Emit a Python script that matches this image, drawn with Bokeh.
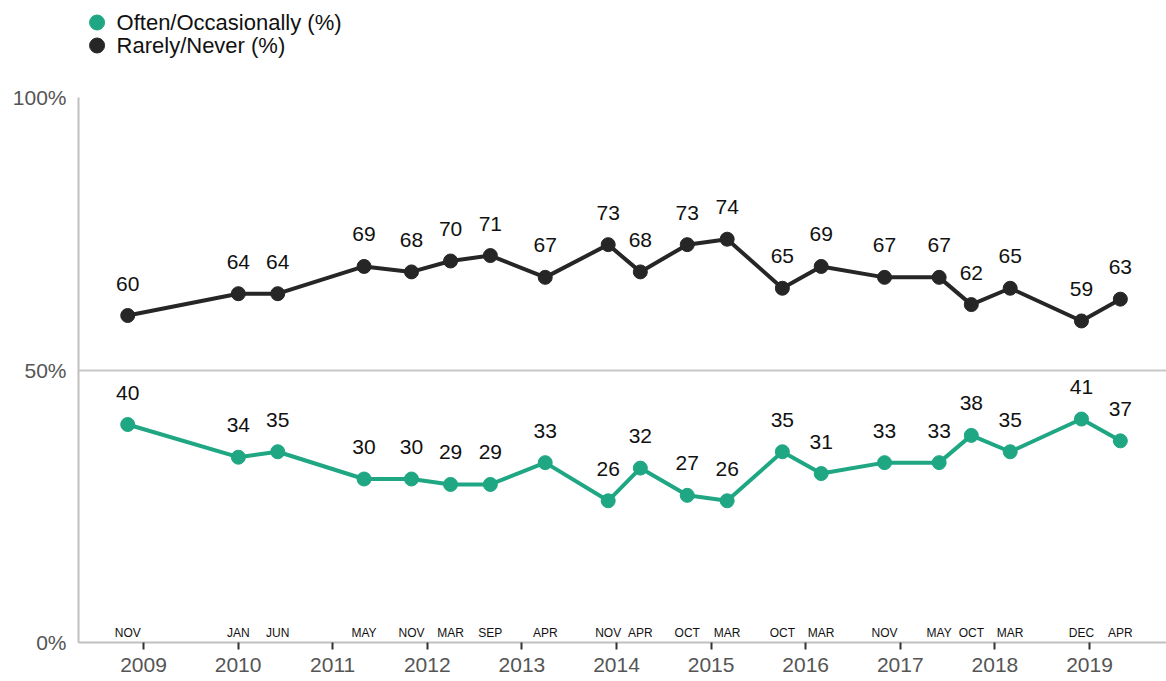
from datetime import date
from bokeh.plotting import figure
from bokeh.layouts import column
from bokeh.models import ColumnDataSource, Range1d, FixedTicker
from bokeh.core.properties import value
from bokeh.embed import file_html
from bokeh.resources import INLINE

# ---- data ----
survey_dates = ["2008-11-01", "2010-01-02", "2010-06-03", "2011-05-02", "2011-11-01",
                "2012-03-31", "2012-09-01", "2013-04-01", "2013-11-30", "2014-04-03",
                "2014-10-01", "2015-03-04", "2015-10-03", "2016-03-01", "2016-11-01",
                "2017-05-31", "2017-10-02", "2018-03-01", "2018-12-01", "2019-04-30"]
month_labels = ["NOV", "JAN", "JUN", "MAY", "NOV", "MAR", "SEP", "APR", "NOV", "APR",
                "OCT", "MAR", "OCT", "MAR", "NOV", "MAY", "OCT", "MAR", "DEC", "APR"]
often = [40, 34, 35, 30, 30, 29, 29, 33, 26, 32, 27, 26, 35, 31, 33, 33, 38, 35, 41, 37]
rarely = [60, 64, 64, 69, 68, 70, 71, 67, 73, 68, 73, 74, 65, 69, 67, 67, 62, 65, 59, 63]
year_ticks = list(range(2009, 2020))
y_ticks = [0, 50, 100]
y_tick_labels = ["0%", "50%", "100%"]
series_names = ["Often/Occasionally (%)", "Rarely/Never (%)"]

GREEN = "#1fa683"
DARK = "#262626"
FONT = "Liberation Sans"


def frac_year(s):
    d = date.fromisoformat(s)
    start = date(d.year, 1, 1)
    n = (date(d.year + 1, 1, 1) - start).days
    return d.year + (d - start).days / n


xs = [frac_year(s) for s in survey_dates]
src = ColumnDataSource(dict(
    x=xs, often=often, rarely=rarely,
    often_txt=[str(v) for v in often], rarely_txt=[str(v) for v in rarely],
    month=month_labels, zero=[0] * len(xs),
))

FRAME_W = 1088
LEFT = 78

# ---- legend strip (pixel-like coordinates, frame aligned with the chart frame) ----
LEG_H = 60
leg = figure(width=FRAME_W, height=LEG_H, min_border=0,
             min_border_left=0, min_border_right=0, min_border_top=0, min_border_bottom=0,
             x_range=Range1d(0, FRAME_W), y_range=Range1d(LEG_H, 0),
             x_axis_location=None, y_axis_location=None,
             output_backend="svg", toolbar_location=None)
leg.outline_line_color = None
leg.grid.grid_line_color = None
leg_src = ColumnDataSource(dict(
    gx=[98 - LEFT, 98 - LEFT], gy=[22, 45], tx=[119 - LEFT, 119 - LEFT],
    label=series_names, color=[GREEN, DARK],
))
leg.scatter("gx", "gy", source=leg_src, size=15, color="color")
leg.text("tx", "gy", text="label", source=leg_src, text_align="left", text_baseline="middle",
         text_font=value(FONT), text_font_size="22px", text_color="#111111")

# ---- main chart ----
p = figure(frame_width=FRAME_W, frame_height=545,
           min_border_left=LEFT, min_border_right=0, min_border_top=97 - LEG_H,
           min_border_bottom=38,
           x_range=Range1d(2008.313, 2019.814), y_range=Range1d(0, 100),
           output_backend="svg", toolbar_location=None)
p.outline_line_color = None
p.background_fill_color = "white"
p.border_fill_color = "white"

# 50% reference line
p.xgrid.grid_line_color = None
p.ygrid.ticker = FixedTicker(ticks=[50])
p.ygrid.grid_line_color = "#c8c8c8"
p.ygrid.grid_line_width = 2

# lines and markers
p.line("x", "rarely", source=src, line_width=4, color=DARK)
p.scatter("x", "rarely", source=src, size=14, color=DARK)
p.line("x", "often", source=src, line_width=4, color=GREEN)
p.scatter("x", "often", source=src, size=14, color=GREEN)

# value labels
for col, tcol in (("rarely", "rarely_txt"), ("often", "often_txt")):
    p.text("x", col, text=tcol, source=src, text_align="center", text_baseline="middle",
           y_offset=-32, text_font=value(FONT), text_font_size="21px", text_color="#111111")

# month labels
p.text("x", "zero", text="month", source=src, text_align="center", text_baseline="middle",
       y_offset=-10, text_font=value(FONT), text_font_size="12px", text_color="#111111")

# axes
xa = p.xaxis[0]
xa.ticker = FixedTicker(ticks=year_ticks)
xa.major_label_text_font = FONT
xa.major_label_text_font_size = "21px"
xa.major_label_text_color = "#555555"
xa.axis_line_color = "#c0c0c0"
xa.axis_line_width = 2
xa.major_tick_line_color = "#333333"
xa.major_tick_line_width = 2
xa.major_tick_in = 0
xa.major_tick_out = 7
xa.minor_tick_line_color = None
xa.major_label_standoff = 8

ya = p.yaxis[0]
ya.ticker = FixedTicker(ticks=y_ticks)
ya.major_label_overrides = {t: l for t, l in zip(y_ticks, y_tick_labels)}
ya.major_label_text_font = FONT
ya.major_label_text_font_size = "21px"
ya.major_label_text_color = "#555555"
ya.axis_line_color = "#c0c0c0"
ya.axis_line_width = 2
ya.major_tick_line_color = None
ya.minor_tick_line_color = None
ya.major_tick_in = 0
ya.major_tick_out = 0
ya.major_label_standoff = 12

layout = column(leg, p, spacing=0)
open("out.html", "w").write(file_html(layout, INLINE))
